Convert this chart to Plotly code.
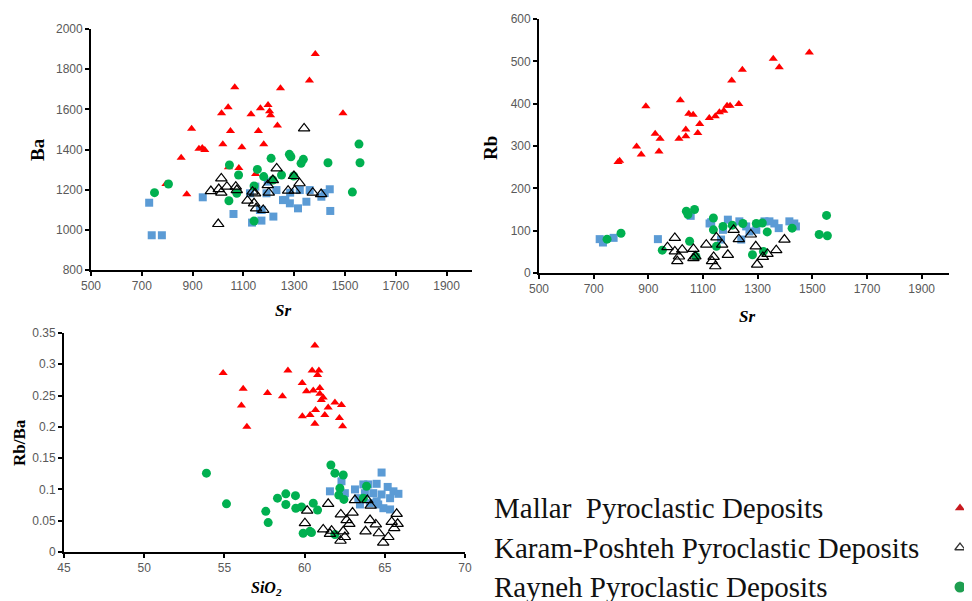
import plotly.graph_objects as go

W, H = 972, 601
OFF = 8  # page body margin offset

# ---------------- data ----------------
# Panel 1: Sr vs Ba
mallar_sr_a = [1383, 1360, 1066, 1246, 1040, 1014, 1130, 1167, 1197, 1203, 1207, 1492, 896, 1049,
               1159, 1234, 925, 938, 948, 1019, 1094, 1180, 855, 1082, 1148, 1041, 795, 877]
mallar_ba = [1876, 1743, 1710, 1705, 1610, 1580, 1575, 1605, 1621, 1590, 1570, 1580, 1503, 1492,
             1492, 1519, 1404, 1407, 1397, 1426, 1411, 1426, 1359, 1308, 1278, 1311, 1228, 1177]
karam_sr_a = [1339, 1013, 1231, 1299, 972, 1003, 1013, 1035, 1070, 1074, 1116, 1136, 1146, 1142,
              1150, 1178, 1196, 1200, 1216, 1276, 1302, 1321, 1373, 1406, 1001]
karam_ba = [1505, 1256, 1306, 1268, 1193, 1203, 1185, 1215, 1215, 1198, 1145, 1190, 1182, 1132,
            1107, 1099, 1223, 1185, 1248, 1195, 1195, 1232, 1185, 1178, 1029]
rayneh_sr_a = [1555, 1559, 1433, 1336, 1327, 1281, 1287, 1209, 1045, 1155, 1081, 1180, 1250, 1298,
               1216, 1142, 1074, 805, 750, 1043, 1142, 1529]
rayneh_ba = [1427, 1334, 1334, 1351, 1331, 1376, 1364, 1356, 1323, 1301, 1273, 1265, 1273, 1268,
             1248, 1218, 1182, 1228, 1185, 1145, 1044, 1188]
blue_sr_a = [729, 739, 779, 940, 1061, 1134, 1171, 1218, 1147, 1126, 1172, 1196, 1230, 1256, 1283,
             1315, 1348, 1361, 1407, 1420, 1322, 1191, 1165, 1440, 1442, 1284, 1265]
blue_ba = [1135, 973, 973, 1162, 1079, 1036, 1046, 1066, 1215, 1182, 1099, 1240, 1198, 1148, 1132,
           1107, 1140, 1198, 1165, 1183, 1198, 1182, 1099, 1202, 1094, 1185, 1149]

# Panel 2: Sr vs Rb
mallar_sr_b = [1489, 1357, 1379, 1244, 1205, 1231, 1199, 1188, 1176, 1160, 1145, 1123, 1017, 891,
               1048, 1064, 1088, 1037, 1037, 1081, 1012, 925, 943, 939, 857, 874, 795, 789]
mallar_rb = [521, 506, 486, 480, 455, 399, 395, 395, 383, 380, 370, 366, 408, 394,
             376, 374, 352, 339, 323, 331, 317, 329, 317, 287, 299, 280, 265, 262]
karam_sr_b = [997, 970, 1024, 997, 1012, 1006, 1065, 1065, 1072, 1112, 1149, 1170, 1139, 1133,
              1145, 1191, 1212, 1231, 1275, 1293, 1298, 1319, 1336, 1368, 1398]
karam_rb = [83, 61, 55, 51, 39, 28, 57, 35, 39, 67, 84, 67, 38, 28, 16, 43, 102, 80, 91, 63,
            20, 38, 45, 54, 79]
rayneh_sr_b = [1552, 1525, 1555, 1426, 1335, 1317, 1295, 1246, 1207, 1173, 1138, 1138, 1149, 1069,
               1039, 1045, 1051, 951, 800, 749, 1074, 1281, 1321]
rayneh_rb = [136, 91, 88, 106, 97, 118, 117, 117, 113, 110, 130, 102, 63, 150, 146, 138, 75, 54,
             94, 80, 39, 43, 51]
blue_sr_b = [722, 734, 773, 935, 1055, 1191, 1130, 1124, 1173, 1166, 1240, 1258, 1295, 1325, 1343,
             1361, 1377, 1416, 1434, 1440, 1270, 1233]
blue_rb = [80, 72, 83, 80, 135, 126, 120, 117, 102, 79, 79, 110, 102, 122, 122, 117, 106, 122,
           117, 110, 98, 122]

# Panel 3: SiO2 vs Rb/Ba
mallar_sio2 = [60.64, 54.92, 58.96, 60.47, 60.89, 60.81, 59.85, 56.17, 57.69, 58.62, 60.12, 60.54,
               60.95, 60.95, 61.04, 61.16, 56.06, 61.89, 62.30, 61.47, 60.68, 59.86, 60.34, 61.26,
               62.17, 56.40, 60.64, 62.37]
mallar_rbba = [0.330, 0.286, 0.290, 0.290, 0.290, 0.283, 0.270, 0.261, 0.254, 0.249, 0.257, 0.258,
               0.262, 0.253, 0.243, 0.247, 0.234, 0.239, 0.235, 0.231, 0.227, 0.217, 0.219, 0.219,
               0.214, 0.200, 0.205, 0.201]
karam_sio2 = [61.47, 60.16, 60.02, 63.14, 63.91, 64.12, 62.99, 62.26, 62.62, 62.79, 64.08, 64.44,
              65.74, 65.43, 65.80, 65.59, 61.16, 61.68, 61.58, 62.41, 62.51, 62.24, 63.80, 64.63,
              65.22, 64.90]
karam_rbba = [0.077, 0.066, 0.046, 0.083, 0.083, 0.074, 0.063, 0.060, 0.051, 0.045, 0.051, 0.044,
              0.061, 0.048, 0.045, 0.038, 0.036, 0.034, 0.029, 0.033, 0.024, 0.018, 0.033, 0.030,
              0.024, 0.015]
rayneh_sio2 = [53.88, 55.13, 57.58, 57.73, 58.31, 58.83, 58.83, 59.43, 59.45, 59.81, 60.54, 60.81,
               59.91, 60.33, 60.43, 61.64, 61.89, 62.41, 62.20, 62.13, 62.45, 63.86, 63.66, 61.89]
rayneh_rbba = [0.126, 0.077, 0.065, 0.047, 0.086, 0.093, 0.076, 0.090, 0.070, 0.072, 0.078, 0.067,
               0.030, 0.033, 0.031, 0.139, 0.126, 0.123, 0.102, 0.091, 0.084, 0.105, 0.086, 0.028]
blue_sio2 = [64.80, 61.58, 62.30, 62.51, 63.14, 63.66, 63.97, 64.49, 63.76, 64.28, 64.80, 65.18,
             65.54, 65.85, 65.33, 63.45, 64.07, 64.49, 64.91, 65.33, 63.35, 64.59]
blue_rbba = [0.127, 0.097, 0.113, 0.094, 0.100, 0.108, 0.108, 0.109, 0.094, 0.094, 0.092, 0.104,
             0.097, 0.093, 0.086, 0.076, 0.078, 0.081, 0.070, 0.068, 0.086, 0.076]

ticks_p3_y = [0, 0.05, 0.1, 0.15, 0.2, 0.25, 0.3, 0.35]
ticks_p3_y_text = ["0", "0.05", "0.1", "0.15", "0.2", "0.25", "0.3", "0.35"]

legend_labels = ["Mallar  Pyroclastic Deposits",
                 "Karam-Poshteh Pyroclastic Deposits",
                 "Rayneh Pyroclastic Deposits"]

# ---------------- styles ----------------
RED = "#FF0000"
GREEN = "#00B050"
BLUE = "#5B9BD5"


def px_x(p):
    return (p - OFF) / W


def px_y(p):
    return 1 - (p - OFF) / H


styles = {
    "blue": dict(symbol="square", size=8, color=BLUE, line=dict(width=0)),
    "mallar": dict(symbol="triangle-up", size=8, color=RED, line=dict(width=0)),
    "rayneh": dict(symbol="circle", size=9, color=GREEN, line=dict(width=0)),
    "karam": dict(symbol="triangle-up-open", size=10, color="black", line=dict(width=1.2, color="black")),
}

panels = [
    ("x", "y", {"blue": (blue_sr_a, blue_ba), "mallar": (mallar_sr_a, mallar_ba),
                "rayneh": (rayneh_sr_a, rayneh_ba), "karam": (karam_sr_a, karam_ba)}),
    ("x2", "y2", {"blue": (blue_sr_b, blue_rb), "mallar": (mallar_sr_b, mallar_rb),
                  "rayneh": (rayneh_sr_b, rayneh_rb), "karam": (karam_sr_b, karam_rb)}),
    ("x3", "y3", {"blue": (blue_sio2, blue_rbba), "mallar": (mallar_sio2, mallar_rbba),
                  "rayneh": (rayneh_sio2, rayneh_rbba), "karam": (karam_sio2, karam_rbba)}),
]

fig = go.Figure()
for xa, ya, series in panels:
    for key in ["blue", "mallar", "rayneh", "karam"]:
        xs, ys = series[key]
        fig.add_trace(go.Scatter(x=xs, y=ys, mode="markers", xaxis=xa, yaxis=ya,
                                 marker=styles[key], showlegend=False, cliponaxis=False,
                                 hoverinfo="x+y"))

# legend markers on a hidden axis (rows 0,1,2)
leg_syms = [dict(symbol="triangle-up", size=9, color="#C8191E", line=dict(width=0)),
            dict(symbol="triangle-up-open", size=9, color="#333333", line=dict(width=1.3, color="#333333")),
            dict(symbol="circle", size=11, color="#1E9E50", line=dict(width=0))]
for i, ms in enumerate(leg_syms):
    fig.add_trace(go.Scatter(x=[0], y=[i], mode="markers", xaxis="x4", yaxis="y4",
                             marker=ms, showlegend=False, cliponaxis=False, hoverinfo="skip"))

tickfont = dict(family="Liberation Sans, Arial, sans-serif", size=12, color="#595959")
axis_common = dict(showgrid=False, zeroline=False, showline=True, linecolor="black", linewidth=1.8,
                   ticks="outside", ticklen=4, tickwidth=1.5, tickcolor="black", tickfont=tickfont,
                   mirror=False, automargin=False)

# legend rows: row 0 at ref pixel 508, 39.5 px per row, axis spans ref pixels 480..609
ROW0, ROWH = 508, 39.5
leg_top, leg_bot = 480, H + OFF

fig.update_layout(
    width=W, height=H, margin=dict(l=0, r=0, t=0, b=0, pad=0, autoexpand=False),
    paper_bgcolor="white", plot_bgcolor="white",
    xaxis=dict(domain=[px_x(91), px_x(472)], range=[500, 2000], tick0=500, dtick=200,
               anchor="y", **axis_common),
    yaxis=dict(domain=[px_y(270), px_y(29)], range=[800, 2000], dtick=200, anchor="x", **axis_common),
    xaxis2=dict(domain=[px_x(539), px_x(949)], range=[500, 2000], tick0=500, dtick=200,
                anchor="y2", **axis_common),
    yaxis2=dict(domain=[px_y(273), px_y(19)], range=[0, 600], dtick=100, anchor="x2", **axis_common),
    xaxis3=dict(domain=[px_x(64), px_x(465)], range=[45, 70], dtick=5, anchor="y3", **axis_common),
    yaxis3=dict(domain=[px_y(552), px_y(333)], range=[0, 0.35], tickmode="array",
                tickvals=ticks_p3_y, ticktext=ticks_p3_y_text, anchor="x3", **axis_common),
    xaxis4=dict(domain=[px_x(940), px_x(980)], range=[-1, 1], visible=False, anchor="y4"),
    yaxis4=dict(domain=[px_y(leg_bot), px_y(leg_top)],
                range=[(leg_bot - ROW0) / ROWH, (leg_top - ROW0) / ROWH],
                visible=False, anchor="x4"),
)

serif = "Liberation Serif, Times New Roman, serif"
ann = []
ann.append(dict(text="<b>Ba</b>", x=px_x(37), y=px_y(150), textangle=-90,
                font=dict(family=serif, size=19, color="black")))
ann.append(dict(text="<b>Rb</b>", x=px_x(490), y=px_y(148), textangle=-90,
                font=dict(family=serif, size=19, color="black")))
ann.append(dict(text="<b>Rb/Ba</b>", x=px_x(19), y=px_y(443), textangle=-90,
                font=dict(family=serif, size=17, color="black")))
ann.append(dict(text="<b><i>Sr</i></b>", x=px_x(283), y=px_y(310),
                font=dict(family=serif, size=17, color="black")))
ann.append(dict(text="<b><i>Sr</i></b>", x=px_x(747), y=px_y(316),
                font=dict(family=serif, size=17, color="black")))
ann.append(dict(text="<b><i>SiO<sub>2</sub></i></b>", x=px_x(266), y=px_y(588),
                font=dict(family=serif, size=16, color="black")))
for a in ann:
    a.update(xref="paper", yref="paper", showarrow=False, xanchor="center", yanchor="middle")

for i, lab in enumerate(legend_labels):
    ann.append(dict(text=lab, xref="paper", yref="y4", x=px_x(492), y=i, showarrow=False,
                    xanchor="left", yanchor="middle",
                    font=dict(family=serif, size=29, color="#111111")))

fig.update_layout(annotations=ann)
fig.write_html("out.html")
